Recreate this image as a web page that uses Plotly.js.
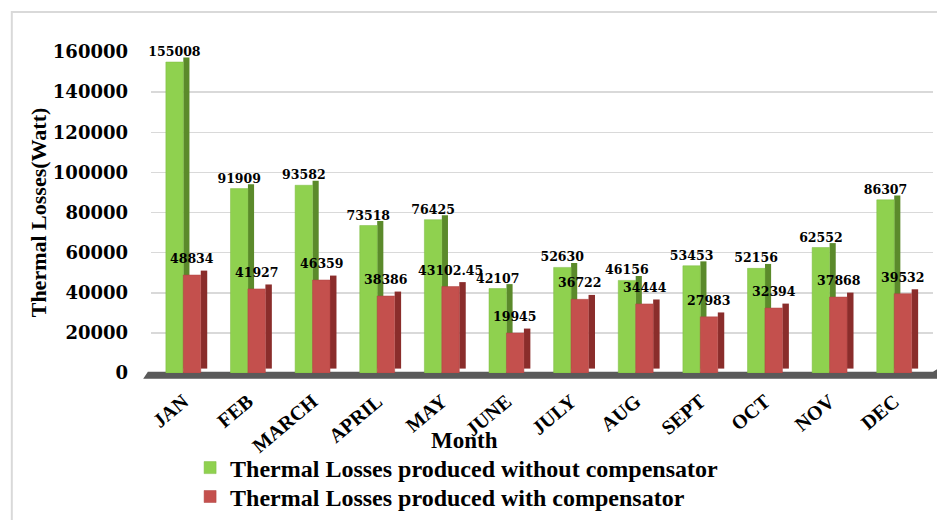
<!DOCTYPE html>
<html><head><meta charset="utf-8">
<script src="https://cdn.plot.ly/plotly-3.0.1.min.js"></script>
<style>body{margin:0;background:#fff}#c{width:937px;height:520px}</style>
</head><body><div id="c"></div>
<script>
const months = ["JAN","FEB","MARCH","APRIL","MAY","JUNE","JULY","AUG","SEPT","OCT","NOV","DEC"];
const withoutComp = [155008, 91909, 93582, 73518, 76425, 42107, 52630, 46156, 53453, 52156, 62552, 86307];
const withComp = [48834, 41927, 46359, 38386, 43102.45, 19945, 36722, 34444, 27983, 32394, 37868, 39532];
const yTicks = [0,20000,40000,60000,80000,100000,120000,140000,160000];

const serif = "Liberation Serif, Times New Roman, serif";
const numFont = "DejaVu Serif, serif";
const labelFont = {family: numFont, size: 12.5, color: "#000", weight: "bold"};
const faceLift = 2200;

const traces = [
  {type:"bar", x:months, y:withoutComp, base:faceLift, offset:0, width:0.095,
   marker:{color:"#5b8a2b", line:{width:0}}, showlegend:false, hoverinfo:"skip"},
  {type:"bar", name:"Thermal Losses produced without compensator", x:months, y:withoutComp,
   offset:-0.27, width:0.27, legend:"legend",
   marker:{color:"#8fd14f", line:{color:"#7dbb40", width:0.5}},
   text: withoutComp.map(String), textposition:"outside", textfont:labelFont,
   constraintext:"none", cliponaxis:false},
  {type:"bar", x:months, y:withComp, base:faceLift, offset:0.27, width:0.1,
   marker:{color:"#8a2d2b", line:{width:0}}, showlegend:false, hoverinfo:"skip"},
  {type:"bar", name:"Thermal Losses produced with compensator", x:months, y:withComp,
   offset:0, width:0.27, legend:"legend2",
   marker:{color:"#c4504d", line:{color:"#b04442", width:0.5}}}
];

const redLabels = withComp.map((v, i) => ({
  x: months[i], y: v, xref:"x", yref:"y", text: String(v), showarrow:false,
  xanchor:"center", yanchor:"bottom", xshift:9, yshift:7, font: labelFont
}));

const legendFont = {family:serif, size:24, color:"#000", weight:"bold"};
const layout = {
  width:937, height:520,
  margin:{l:151, r:4, t:52, b:147, autoexpand:false},
  paper_bgcolor:"#fff", plot_bgcolor:"#fff",
  barmode:"overlay",
  showlegend:true,
  legend:{x:0.05, y:-0.296, xanchor:"left", yanchor:"middle", font:legendFont, itemwidth:30,
          bgcolor:"rgba(0,0,0,0)"},
  legend2:{x:0.05, y:-0.386, xanchor:"left", yanchor:"middle", font:legendFont, itemwidth:30,
          bgcolor:"rgba(0,0,0,0)"},
  xaxis:{range:[-0.5,11.6], tickangle:-40, showgrid:false, zeroline:false, showline:false,
         ticklen:0, ticklabelstandoff:12, automargin:false,
         tickfont:{family:serif, size:20, color:"#000", weight:"bold"}},
  yaxis:{range:[0,160000], tickvals:yTicks, ticktext:yTicks.map(String), automargin:false,
         showgrid:true, gridcolor:"#d9d9d9", gridwidth:1.5, zeroline:false, showline:false,
         tickfont:{family:numFont, size:18, color:"#000", weight:"bold"}, ticklen:0, ticklabelstandoff:22,
         title:{text:"Thermal Losses(Watt)", font:{family:serif, size:22, color:"#000", weight:"bold"}, standoff:0}},
  annotations: redLabels.concat([
    {xref:"paper", yref:"paper", x:0.4015, y:-0.209, text:"Month", showarrow:false,
     xanchor:"center", yanchor:"middle", font:{family:serif, size:23, color:"#000", weight:"bold"}}
  ]),
  shapes:[
    {type:"rect", xref:"paper", yref:"paper", x0:-0.178, x1:1.05, y0:1.1246, y1:-0.6,
     line:{color:"#d9d9d9", width:2}, fillcolor:"rgba(0,0,0,0)", layer:"below"},
    {type:"path", xref:"paper", yref:"paper",
     path:"M -0.004 0.004 L 1.0 0.004 L 1.012 0.022 L 1.006 -0.018 L -0.01 -0.018 Z",
     fillcolor:"#5a5a5a", line:{width:0}, layer:"below"}
  ]
};
Plotly.newPlot("c", traces, layout, {displayModeBar:false, staticPlot:true});
</script></body></html>
